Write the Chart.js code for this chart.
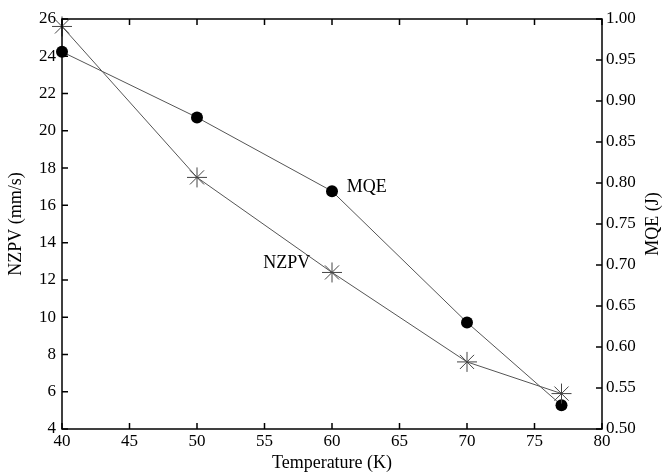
<!DOCTYPE html>
<html>
<head>
<meta charset="utf-8">
<script src="https://cdn.jsdelivr.net/npm/chart.js@4/dist/chart.umd.min.js"></script>
<style>
  html, body { margin: 0; padding: 0; background: #fff; }
  #wrap { width: 665px; height: 475px; }
</style>
</head>
<body>
<div id="wrap"><canvas id="chart"></canvas></div>
<script>
// temperature points and measured values
const temps = [40, 50, 60, 70, 77];
const nzpv = [25.6, 17.5, 12.4, 7.6, 5.9];      // mm/s, left axis
const mqe = [0.960, 0.880, 0.790, 0.630, 0.529]; // J, right axis

const xTicks = { min: 40, max: 80, step: 5 };
const yLeftTicks = { min: 4, max: 26, step: 2 };
const yRightTicks = { min: 0.5, max: 1.0, step: 0.05 };

const serif = '"Liberation Serif", "DejaVu Serif", serif';

// in-plot series labels, positioned in data units
const seriesLabels = [
  { text: 'MQE', x: 61.1, y: 0.795, axis: 'y1' },
  { text: 'NZPV', x: 54.9, y: 12.9, axis: 'y' }
];

// frame with inward tick marks on all sides, plus the labels
const framePlugin = {
  id: 'frame',
  afterDraw(chart) {
    const { ctx, chartArea: a, scales } = chart;
    const len = 6;
    ctx.save();
    ctx.strokeStyle = '#000';
    ctx.lineWidth = 1.5;
    ctx.strokeRect(a.left, a.top, a.right - a.left, a.bottom - a.top);
    ctx.beginPath();
    scales.x.ticks.forEach(t => {
      const px = scales.x.getPixelForValue(t.value);
      ctx.moveTo(px, a.bottom); ctx.lineTo(px, a.bottom - len);
      ctx.moveTo(px, a.top); ctx.lineTo(px, a.top + len);
    });
    scales.y.ticks.forEach(t => {
      const py = scales.y.getPixelForValue(t.value);
      ctx.moveTo(a.left, py); ctx.lineTo(a.left + len, py);
    });
    scales.y1.ticks.forEach(t => {
      const py = scales.y1.getPixelForValue(t.value);
      ctx.moveTo(a.right, py); ctx.lineTo(a.right - len, py);
    });
    ctx.stroke();

    ctx.fillStyle = '#000';
    ctx.font = '18px ' + serif;
    ctx.textBaseline = 'middle';
    ctx.textAlign = 'left';
    seriesLabels.forEach(l => {
      ctx.fillText(l.text, scales.x.getPixelForValue(l.x), scales[l.axis].getPixelForValue(l.y));
    });

    // right axis title reads bottom to top
    ctx.translate(653, (a.top + a.bottom) / 2);
    ctx.rotate(-Math.PI / 2);
    ctx.textAlign = 'center';
    ctx.fillText('MQE (J)', 0, 0);
    ctx.restore();
  }
};

const tickFont = { family: serif, size: 17 };

new Chart(document.getElementById('chart'), {
  type: 'line',
  data: {
    datasets: [
      {
        label: 'NZPV',
        data: temps.map((t, i) => ({ x: t, y: nzpv[i] })),
        yAxisID: 'y',
        clip: false,
        borderColor: '#555',
        borderWidth: 1,
        pointStyle: 'star',
        pointRadius: 10,
        pointBorderColor: '#444',
        pointBorderWidth: 1,
        pointBackgroundColor: 'transparent'
      },
      {
        label: 'MQE',
        data: temps.map((t, i) => ({ x: t, y: mqe[i] })),
        yAxisID: 'y1',
        clip: false,
        borderColor: '#555',
        borderWidth: 1,
        pointStyle: 'circle',
        pointRadius: 6,
        pointBorderWidth: 0,
        pointBackgroundColor: '#000'
      }
    ]
  },
  options: {
    responsive: true,
    maintainAspectRatio: false,
    animation: false,
    layout: { padding: { top: 19, left: 0, right: 0, bottom: 0 } },
    plugins: { legend: { display: false }, tooltip: { enabled: false } },
    scales: {
      x: {
        type: 'linear',
        min: xTicks.min, max: xTicks.max,
        grid: { display: false, drawTicks: false },
        border: { display: false },
        ticks: { stepSize: xTicks.step, color: '#000', font: tickFont, padding: 2, maxRotation: 0 },
        title: { display: true, text: 'Temperature (K)', color: '#000', font: { family: serif, size: 18 }, padding: { top: 0, bottom: 1 } },
        afterFit(s) { s.height = 46; }
      },
      y: {
        position: 'left',
        min: yLeftTicks.min, max: yLeftTicks.max,
        grid: { display: false, drawTicks: false },
        border: { display: false },
        ticks: { stepSize: yLeftTicks.step, color: '#000', font: tickFont, padding: 6 },
        title: { display: true, text: 'NZPV (mm/s)', color: '#000', font: { family: serif, size: 18 }, padding: { top: 5, bottom: 0 } },
        afterFit(s) { s.width = 62; }
      },
      y1: {
        position: 'right',
        min: yRightTicks.min, max: yRightTicks.max,
        grid: { display: false, drawTicks: false },
        border: { display: false },
        ticks: { stepSize: yRightTicks.step, color: '#000', font: tickFont, padding: 4,
                 callback: v => v.toFixed(2) },
        afterFit(s) { s.width = 63; }
      }
    }
  },
  plugins: [framePlugin]
});
</script>
</body>
</html>
